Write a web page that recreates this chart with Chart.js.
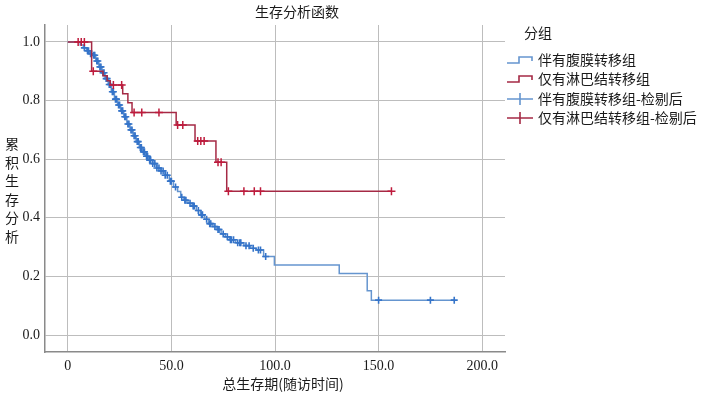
<!DOCTYPE html>
<html>
<head>
<meta charset="utf-8">
<script src="https://cdn.jsdelivr.net/npm/chart.js@4"></script>
<style>
  html, body { margin: 0; padding: 0; background: #fff; }
  #wrap { width: 712px; height: 397px; position: relative; }
</style>
</head>
<body>
<div id="wrap"><canvas id="km"></canvas></div>
<script>
// --- Chart data ---
const chartTitle = '生存分析函数';
const xTitle = '总生存期(随访时间)';
const yTitleChars = ['累', '积', '生', '存', '分', '析'];
const legendTitle = '分组';
const legendLabels = ['伴有腹膜转移组', '仅有淋巴结转移组', '伴有腹膜转移组-检剔后', '仅有淋巴结转移组-检剔后'];

const xTicks = [0, 50, 100, 150, 200];
const yTicks = [0, 0.2, 0.4, 0.6, 0.8, 1.0];

// 伴有腹膜转移组: step times and survival after each step
const blueTimes = [0, 5, 6, 7.5, 9, 10.5, 12, 13.5, 15, 16.5, 18, 19.5, 21, 22.5, 24, 25.5, 27, 28.5, 30,
  31.5, 33, 34.5, 36, 37.5, 39, 41, 43, 45, 47, 49, 51, 53, 54.5, 56, 58, 60, 62, 64, 66, 68, 70,
  72, 74, 76, 78, 81, 85, 88, 91, 94.5, 99.7, 131, 144.5, 146.5, 186.5];
const blueSurv = [1.0, 1.0, 0.99, 0.98, 0.97, 0.96, 0.955, 0.935, 0.915, 0.895, 0.875, 0.855, 0.83, 0.805,
  0.785, 0.765, 0.745, 0.72, 0.70, 0.68, 0.66, 0.64, 0.625, 0.61, 0.597, 0.585, 0.57, 0.56, 0.545,
  0.525, 0.505, 0.49, 0.47, 0.46, 0.45, 0.44, 0.425, 0.41, 0.395, 0.38, 0.37, 0.36, 0.345, 0.335,
  0.325, 0.315, 0.305, 0.296, 0.29, 0.268, 0.239, 0.21, 0.151, 0.119, 0.119];
const blueCensor = [8, 9.5, 10, 11, 11.5, 12.5, 13, 14, 14.5, 15.5, 16, 17, 17.5, 18.5, 19, 20, 20.5, 21.5,
  22, 23, 23.5, 24.5, 25, 26, 26.5, 27.5, 28, 29, 29.5, 30.5, 31, 32, 32.5, 33.5, 34, 35, 35.5, 36.5,
  37, 38, 38.5, 39.5, 40, 41, 42, 43, 44, 45, 46, 47, 48, 49.5, 50, 52, 55, 56.5, 57, 59, 60.5, 61,
  63, 64.5, 65, 67, 68.5, 69, 71, 72.5, 73, 75, 77, 78.5, 79, 80, 82, 83, 83.5, 86, 87.5, 89.5, 92,
  93, 95.5, 150, 175, 186.5];

// 仅有淋巴结转移组
const redTimes = [0, 11.5, 17, 19, 20.5, 26.5, 29, 31, 52.3, 61.4, 71.5, 76.7, 156.2];
const redSurv = [1.0, 0.90, 0.885, 0.868, 0.853, 0.823, 0.793, 0.759, 0.717, 0.662, 0.590, 0.491, 0.491];
const redCensor = [5, 6.5, 8, 12.3, 22, 26, 32, 35.7, 44, 53, 55.5, 62.7, 64.2, 65.8, 72.5, 74, 77.5,
  85, 90, 93, 156.2];

// --- Colors ---
const blueLine = '#6595cf';
const blueMark = '#3574c9';
const redLine = '#a52a45';
const redMark = '#be1b3c';

// survival value of a step curve at time t
function survAt(times, surv, t) {
    let v = surv[0];
    for (let i = 0; i < times.length; i++) {
        if (times[i] <= t) v = surv[i];
    }
    return v;
}

const bluePts = blueTimes.map((t, i) => ({ x: t, y: blueSurv[i] }));
const redPts = redTimes.map((t, i) => ({ x: t, y: redSurv[i] }));
const blueMarks = blueCensor.map(t => ({ x: t, y: survAt(blueTimes, blueSurv, t) }));
const redMarks = redCensor.map(t => ({ x: t, y: survAt(redTimes, redSurv, t) }));

// --- Titles, stacked y label and legend ---
const textPlugin = {
    id: 'kmTexts',
    afterDraw(chart) {
        const ctx = chart.ctx;
        ctx.save();
        ctx.fillStyle = '#1a1a1a';
        ctx.font = '14px "Noto Sans CJK SC"';
        ctx.textAlign = 'center';
        ctx.textBaseline = 'middle';
        ctx.fillText(chartTitle, 297, 12);
        ctx.fillText(xTitle, 283, 384);
        yTitleChars.forEach((c, i) => ctx.fillText(c, 12, 144 + i * 18.5));

        ctx.textAlign = 'left';
        ctx.fillText(legendTitle, 524, 33);

        const rows = [60, 79, 99, 118];
        const colors = [blueLine, redLine, blueLine, redLine];
        rows.forEach((y, i) => {
            ctx.fillStyle = '#1a1a1a';
            ctx.fillText(legendLabels[i], 538, y);
            ctx.strokeStyle = colors[i];
            ctx.lineWidth = 1.6;
            ctx.beginPath();
            if (i < 2) {
                ctx.moveTo(507, y + 3);
                ctx.lineTo(519, y + 3);
                ctx.lineTo(519, y - 3);
                ctx.lineTo(532, y - 3);
                ctx.lineTo(532, y + 1);
            } else {
                ctx.moveTo(507, y);
                ctx.lineTo(533, y);
                ctx.moveTo(520, y - 6);
                ctx.lineTo(520, y + 6);
            }
            ctx.stroke();
        });
        ctx.restore();
    }
};

const tickFont = { family: '"Liberation Serif", "Times New Roman", serif', size: 14 };

new Chart(document.getElementById('km'), {
    type: 'line',
    data: {
        datasets: [
            {
                label: legendLabels[1], data: redPts, stepped: 'before',
                borderColor: redLine, borderWidth: 1.5, pointRadius: 0, fill: false, order: 1
            },
            {
                label: legendLabels[3], data: redMarks, showLine: false,
                pointStyle: 'cross', pointRadius: 4, pointBorderWidth: 1.5,
                pointBorderColor: redMark, order: 0
            },
            {
                label: legendLabels[0], data: bluePts, stepped: 'before',
                borderColor: blueLine, borderWidth: 1.5, pointRadius: 0, fill: false, order: 3
            },
            {
                label: legendLabels[2], data: blueMarks, showLine: false,
                pointStyle: 'cross', pointRadius: 3.5, pointBorderWidth: 1.6,
                pointBorderColor: blueMark, order: 2
            }
        ]
    },
    options: {
        responsive: true,
        maintainAspectRatio: false,
        animation: false,
        layout: { padding: { top: 25, right: 207, left: 0, bottom: 0 } },
        plugins: {
            legend: { display: false },
            title: { display: false },
            tooltip: { enabled: false }
        },
        scales: {
            x: {
                type: 'linear',
                min: -11,
                max: 211,
                afterBuildTicks: s => { s.ticks = xTicks.map(v => ({ value: v })); },
                afterFit: s => { s.height = 45; },
                grid: { color: '#bdbdbd', lineWidth: 1, drawTicks: false },
                border: { color: '#8a8a8a', width: 1.5 },
                ticks: {
                    color: '#1a1a1a', font: tickFont, padding: 6, maxRotation: 0,
                    callback: v => (v === 0 ? '0' : v.toFixed(1))
                }
            },
            y: {
                min: -0.058,
                max: 1.058,
                afterBuildTicks: s => { s.ticks = yTicks.map(v => ({ value: v })); },
                afterFit: s => { s.width = 45; },
                grid: { color: '#bdbdbd', lineWidth: 1, drawTicks: false },
                border: { color: '#8a8a8a', width: 1.5 },
                ticks: {
                    color: '#1a1a1a', font: tickFont, padding: 5,
                    callback: v => v.toFixed(1)
                }
            }
        }
    },
    plugins: [textPlugin]
});
</script>
</body>
</html>
